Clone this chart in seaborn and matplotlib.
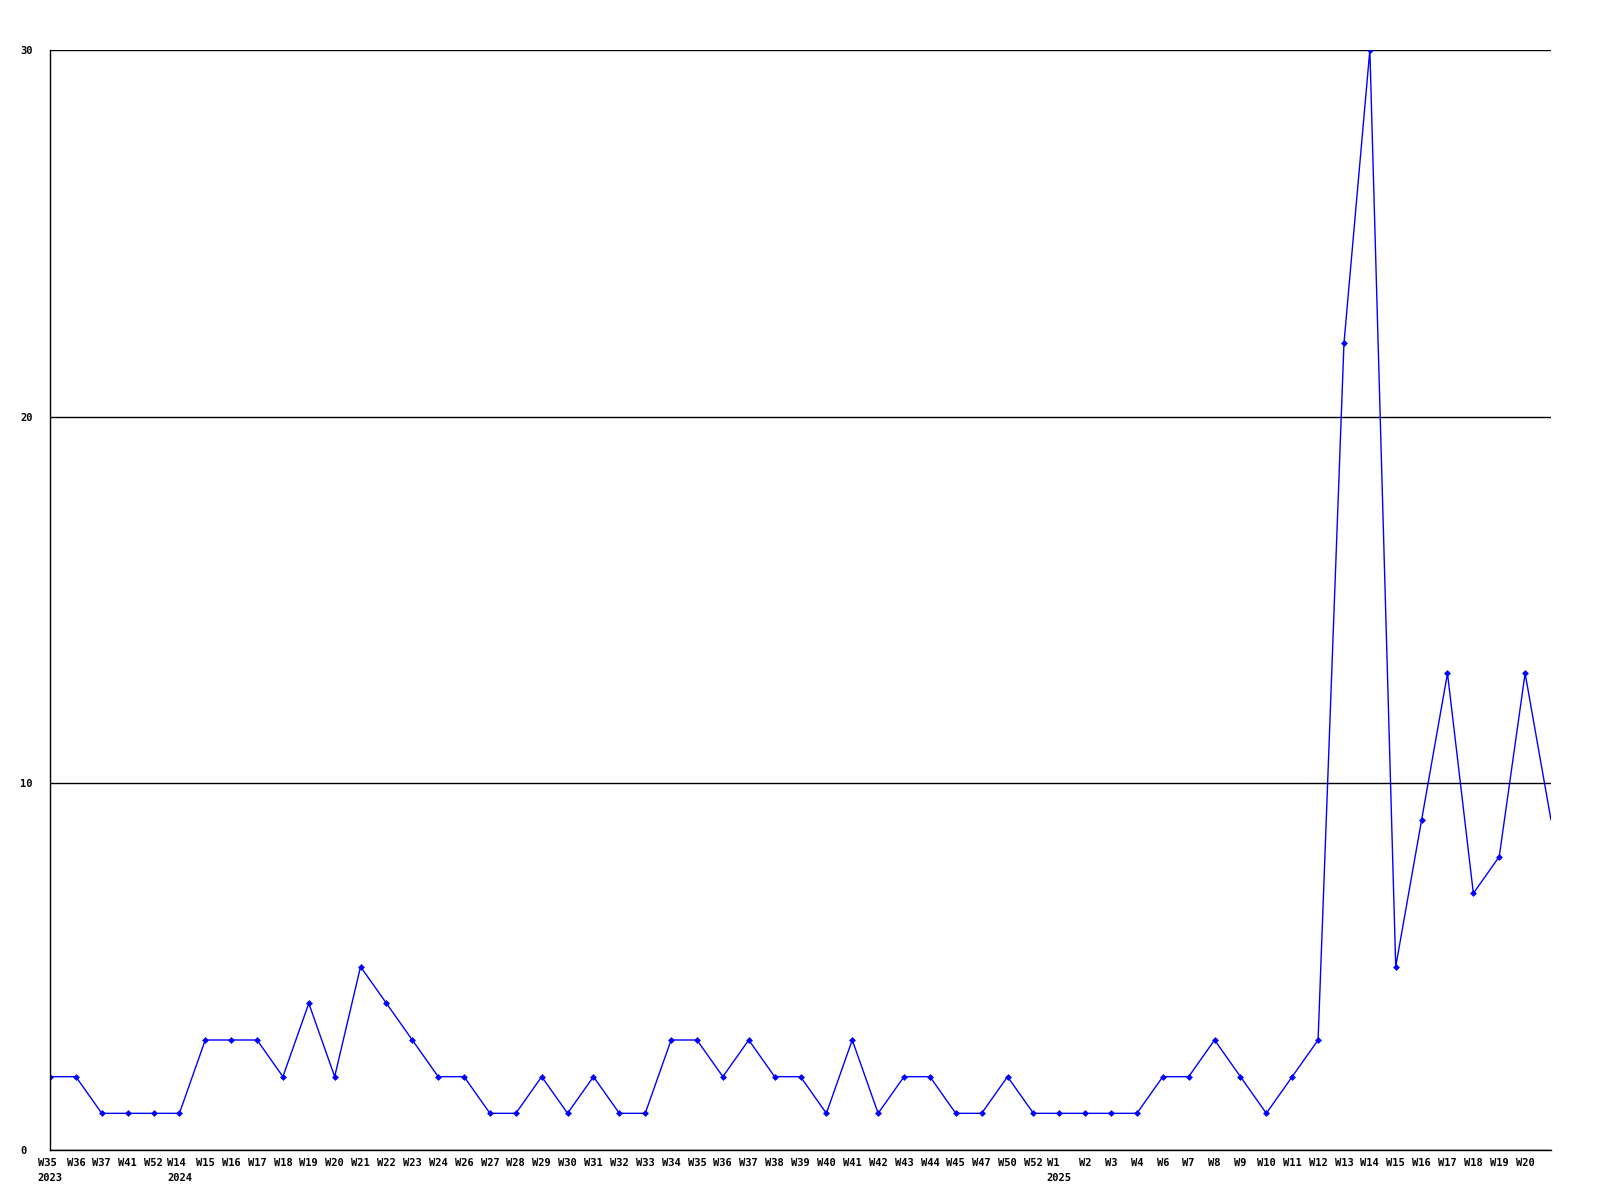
import pandas as pd
import matplotlib.pyplot as plt
import seaborn as sns

# weekly counts, 2023 W35 .. 2025 W20 plus one trailing week with no label
weeks = ["W35", "W36", "W37", "W41", "W52",
         "W14", "W15", "W16", "W17", "W18", "W19", "W20", "W21", "W22", "W23", "W24",
         "W26", "W27", "W28", "W29", "W30", "W31", "W32", "W33", "W34", "W35", "W36",
         "W37", "W38", "W39", "W40", "W41", "W42", "W43", "W44", "W45", "W47", "W50", "W52",
         "W1", "W2", "W3", "W4", "W6", "W7", "W8", "W9", "W10", "W11", "W12", "W13",
         "W14", "W15", "W16", "W17", "W18", "W19", "W20"]
year_marks = {0: "2023", 5: "2024", 39: "2025"}
counts = [2, 2, 1, 1, 1,
          1, 3, 3, 3, 2, 4, 2, 5, 4, 3, 2,
          2, 1, 1, 2, 1, 2, 1, 1, 3, 3, 2,
          3, 2, 2, 1, 3, 1, 2, 2, 1, 1, 2, 1,
          1, 1, 1, 1, 2, 2, 3, 2, 1, 2, 3, 22,
          30, 5, 9, 13, 7, 8, 13,
          9]

df = pd.DataFrame({"idx": range(len(counts)), "count": counts})

sns.set_style("white")
plt.rcParams["font.family"] = ["DejaVu Sans Mono"]
plt.rcParams["text.color"] = "black"
plt.rcParams["xtick.color"] = "black"
plt.rcParams["ytick.color"] = "black"

fig = plt.figure(figsize=(16, 12), dpi=100)
ax = fig.add_axes([50 / 1600, 50 / 1200, 1501 / 1600, 1100 / 1200])

# the trailing week runs off the right edge, so it gets no marker
sns.lineplot(data=df, x="idx", y="count", ax=ax, color="#0000ff",
             linewidth=1.0, marker="D", markersize=3.5, markeredgewidth=0,
             markevery=list(range(len(counts) - 1)))

ax.set_xlim(0, len(counts) - 1)
ax.set_ylim(0, 30)
ax.set_yticks([0, 10, 20, 30])
ax.yaxis.grid(True, color="black", linewidth=1)
ax.set_axisbelow(True)

labels = [w + ("\n" + year_marks[i] if i in year_marks else "") for i, w in enumerate(weeks)]
ax.set_xticks(range(len(weeks)))
ax.set_xticklabels(labels, fontsize=7.5, fontweight="bold", multialignment="left",
                   verticalalignment="top", linespacing=1.6, color="black")
ax.tick_params(axis="x", length=0, pad=6)
ax.tick_params(axis="y", length=0, pad=21.5)
# y labels sit left-aligned in the margin
for t in ax.get_yticklabels():
    t.set_fontsize(7.5)
    t.set_fontweight("bold")
    t.set_color("black")
    t.set_horizontalalignment("left")

ax.set_xlabel("")
ax.set_ylabel("")
for side in ["top", "right"]:
    ax.spines[side].set_visible(False)
for side in ["left", "bottom"]:
    ax.spines[side].set_color("black")
    ax.spines[side].set_linewidth(1)

fig.savefig("out.png", dpi=100)
